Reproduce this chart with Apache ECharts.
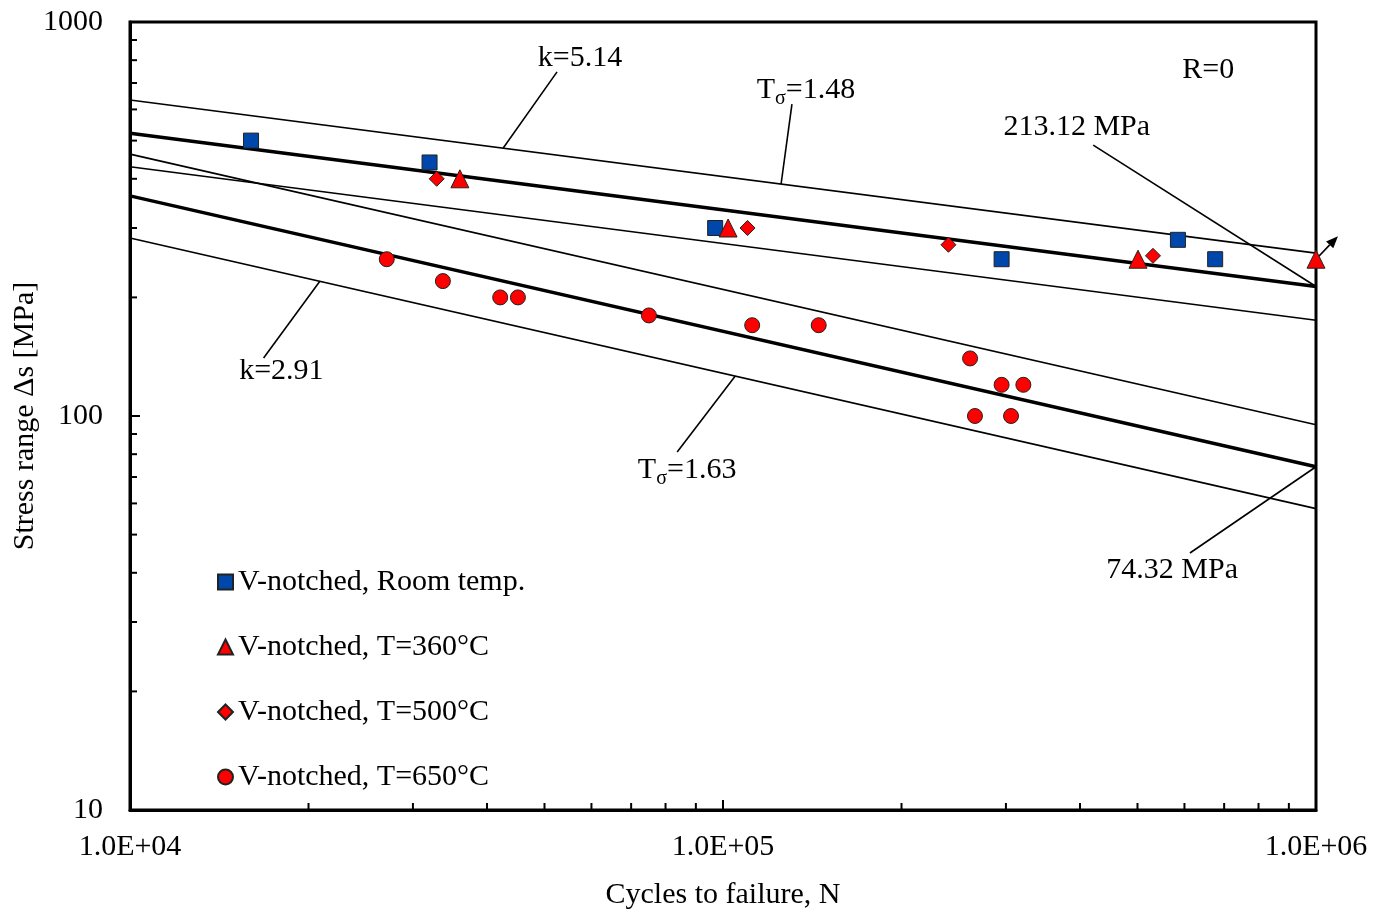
<!DOCTYPE html>
<html>
<head>
<meta charset="utf-8">
<title>S-N curve, V-notched</title>
<script src="https://cdn.jsdelivr.net/npm/echarts@6/dist/echarts.min.js"></script>
<style>
  html, body { margin: 0; padding: 0; background: #fff; }
  #main { width: 1388px; height: 912px; }
</style>
</head>
<body>
<div id="main"></div>
<script>
/* global echarts */
// ---- data (N = cycles, S = stress range MPa) ----
var roomTemp = [[16000, 500], [32000, 440], [97000, 300], [295000, 250], [585000, 280], [676000, 250]];
var t360 = [[36000, 400], [102000, 300], [501000, 250], [1000000, 250]];
var t500 = [[32900, 400], [110000, 300], [240000, 272], [531000, 255]];
var t650 = [[27100, 250], [33700, 220], [42100, 200], [45100, 200], [75000, 180], [112000, 170],
            [145000, 170], [261000, 140], [295000, 120], [321000, 120], [266000, 100], [306000, 100]];

// fitted lines (end points at N=1e4 and N=1e6)
var mean514 = [[10000, 522], [1000000, 213.12]];
var upper148 = [[10000, 634], [1000000, 259]];
var lower148 = [[10000, 429], [1000000, 175]];
var mean291 = [[10000, 362], [1000000, 74.32]];
var upper163 = [[10000, 462], [1000000, 95]];
var lower163 = [[10000, 283], [1000000, 58.2]];

// run-out arrow on the last 360°C point: from (N, S) to (N, S)
var runout = [[1000000, 250, 1089000, 286]];

var xTicks = [10000, 100000, 1000000];
var xTickLabels = ['1.0E+04', '1.0E+05', '1.0E+06'];
var yTicks = [10, 100, 1000];
var yTickLabels = ['10', '100', '1000'];
var xMinor = [20000, 30000, 40000, 50000, 60000, 70000, 80000, 90000,
              200000, 300000, 400000, 500000, 600000, 700000, 800000, 900000];
var yMinor = [20, 30, 40, 50, 60, 70, 80, 90, 200, 300, 400, 500, 600, 700, 800, 900];

var legendNames = ['V-notched, Room temp.', 'V-notched, T=360°C', 'V-notched, T=500°C', 'V-notched, T=650°C'];

var FONT = 'Liberation Serif';
var FS = 30;
var myChart = echarts.init(document.getElementById('main'));

// annotation text and leader lines, placed in data coordinates
var notes = [
    {text: 'k=5.14', at: [57400, 810]},
    {text: '{t|T}{s|σ}{t|=1.48}', at: [138000, 670]},
    {text: '213.12 MPa', at: [395000, 540]},
    {text: 'R=0', at: [658000, 755]},
    {text: 'k=2.91', at: [18000, 130]},
    {text: '{t|T}{s|σ}{t|=1.63}', at: [87000, 72.9]},
    {text: '74.32 MPa', at: [572000, 40.6]}
];
var leaders = [
    [[52500, 747], [42600, 479]],
    [[130700, 619], [125300, 388]],
    [[421000, 487], [1000000, 213.12]],
    [[16800, 140.4], [20900, 219.7]],
    [[83700, 81.0], [104800, 126.2]],
    [[613000, 44.9], [1000000, 74.32]]
];

function fitLine(data, w) {
    return {
        type: 'line', data: data, symbol: 'none', silent: true, z: 2,
        lineStyle: {color: '#000', width: w}
    };
}

function pointSeries(name, data, symbol, size, color) {
    return {
        name: name, type: 'scatter', data: data, symbol: symbol, symbolSize: size, z: 5,
        itemStyle: {color: color, borderColor: '#222', borderWidth: 1, opacity: 1}
    };
}

var series = [
    fitLine(upper148, 1.6), fitLine(mean514, 3.5), fitLine(lower148, 1.6),
    fitLine(upper163, 1.6), fitLine(mean291, 3.5), fitLine(lower163, 1.6)
];
leaders.forEach(function (l) {
    series.push(fitLine(l, 1.6));
});

// run-out arrow
series.push({
    type: 'custom', silent: true, z: 4, clip: false,
    data: runout,
    renderItem: function (params, api) {
        var a = api.coord([api.value(0), api.value(1)]);
        var b = api.coord([api.value(2), api.value(3)]);
        var ang = Math.atan2(b[1] - a[1], b[0] - a[0]);
        var L = 12, W = 5;
        var bx = b[0] - L * Math.cos(ang), by = b[1] - L * Math.sin(ang);
        var nx = -Math.sin(ang) * W, ny = Math.cos(ang) * W;
        return {
            type: 'group',
            children: [
                {type: 'line', shape: {x1: a[0], y1: a[1], x2: bx, y2: by},
                 style: {stroke: '#000', lineWidth: 1.6}},
                {type: 'polygon', shape: {points: [[b[0], b[1]], [bx + nx, by + ny], [bx - nx, by - ny]]},
                 style: {fill: '#000'}}
            ]
        };
    }
});

series.push(pointSeries(legendNames[0], roomTemp, 'rect', 15, '#0047ab'));
series.push(pointSeries(legendNames[1], t360, 'triangle', 18, '#ff0000'));
series[series.length - 1].clip = false;
series.push(pointSeries(legendNames[2], t500, 'diamond', 15, '#ff0000'));
series.push(pointSeries(legendNames[3], t650, 'circle', 15, '#ff0000'));

// annotation texts
series.push({
    type: 'scatter', symbolSize: 0, silent: true, z: 6,
    itemStyle: {opacity: 1},
    data: notes.map(function (n) {
        return {value: n.at, label: {formatter: n.text}};
    }),
    label: {
        show: true, position: 'inside', color: '#000', opacity: 1, fontFamily: FONT, fontSize: FS,
        rich: {
            t: {fontFamily: FONT, fontSize: FS, color: '#000'},
            s: {fontFamily: FONT, fontSize: 20, color: '#000', padding: [17, 0, 0, 0]}
        }
    }
});

// minor ticks (inside)
series.push({
    type: 'custom', silent: true, z: 7, clip: false,
    data: xMinor.map(function (v) { return [v, 10]; }),
    renderItem: function (params, api) {
        var p = api.coord([api.value(0), 10]);
        return {type: 'line', shape: {x1: p[0], y1: p[1], x2: p[0], y2: p[1] - 7},
                style: {stroke: '#000', lineWidth: 2}};
    }
});
series.push({
    type: 'custom', silent: true, z: 7, clip: false,
    data: yMinor.map(function (v) { return [10000, v]; }),
    renderItem: function (params, api) {
        var p = api.coord([10000, api.value(1)]);
        return {type: 'line', shape: {x1: p[0], y1: p[1], x2: p[0] + 7, y2: p[1]},
                style: {stroke: '#000', lineWidth: 2}};
    }
});

var option = {
    animation: false,
    backgroundColor: '#fff',
    textStyle: {fontFamily: FONT},
    grid: {left: 130, right: 72, top: 22, bottom: 102, outerBoundsMode: 'none', containLabel: false,
           show: true, borderColor: '#000', borderWidth: 3},
    legend: {
        data: legendNames, orient: 'vertical', left: 212, top: 562,
        itemWidth: 15, itemHeight: 15, itemGap: 35,
        textStyle: {fontFamily: FONT, fontSize: FS, color: '#000', lineHeight: 30}
    },
    xAxis: {
        type: 'log', logBase: 10, min: 10000, max: 1000000,
        name: 'Cycles to failure, N', nameLocation: 'middle', nameGap: 70,
        nameTextStyle: {fontFamily: FONT, fontSize: FS, color: '#000'},
        axisLine: {lineStyle: {color: '#000', width: 3}},
        axisTick: {inside: true, length: 10, lineStyle: {width: 2}},
        splitLine: {show: false},
        axisLabel: {
            color: '#000', fontFamily: FONT, fontSize: FS, margin: 22,
            formatter: function (v) {
                var i = xTicks.indexOf(Math.round(v));
                return i >= 0 ? xTickLabels[i] : '';
            }
        }
    },
    yAxis: {
        type: 'log', logBase: 10, min: 10, max: 1000,
        name: 'Stress range Δs [MPa]', nameLocation: 'middle', nameGap: 90, nameRotate: 90,
        nameMoveOverlap: false,
        nameTextStyle: {fontFamily: FONT, fontSize: FS, color: '#000'},
        axisLine: {lineStyle: {color: '#000', width: 3}},
        axisTick: {inside: true, length: 10, lineStyle: {width: 2}},
        splitLine: {show: false},
        axisLabel: {
            color: '#000', fontFamily: FONT, fontSize: FS, margin: 27,
            formatter: function (v) {
                var i = yTicks.indexOf(Math.round(v));
                return i >= 0 ? yTickLabels[i] : '';
            }
        }
    },
    series: series
};

myChart.setOption(option);
</script>
</body>
</html>
